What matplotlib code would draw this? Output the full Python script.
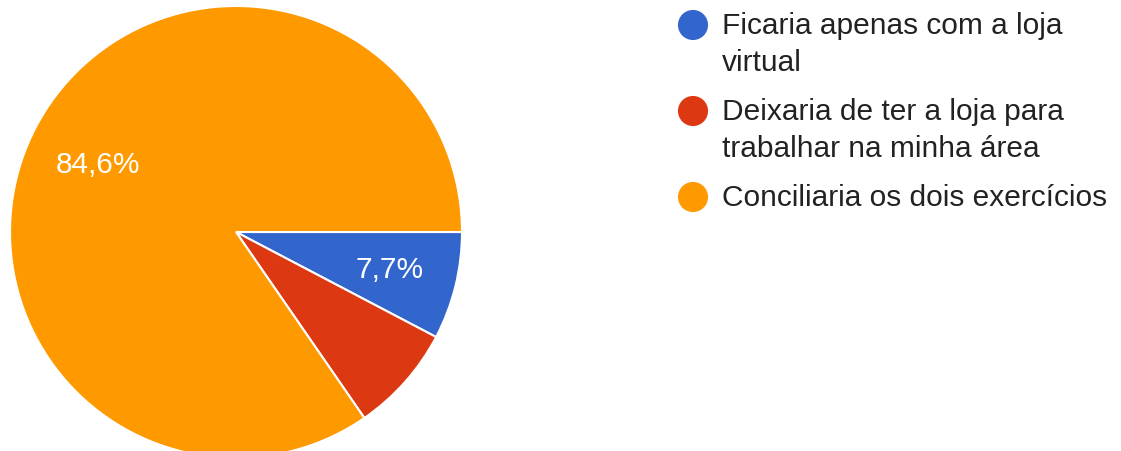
import matplotlib
matplotlib.use("Agg")
import matplotlib.pyplot as plt

plt.rcParams['font.family'] = ['Liberation Sans', 'DejaVu Sans']

# dados
categorias = ["Ficaria apenas com a loja\nvirtual",
              "Deixaria de ter a loja para\ntrabalhar na minha área",
              "Conciliaria os dois exercícios"]
respostas = [1, 1, 11]
cores = ["#3366cc", "#dc3912", "#ff9900"]
mostrar_rotulo = [True, False, True]

W, H = 1121, 451
fig = plt.figure(figsize=(W / 100, H / 100), dpi=100)

# pizza: centro (236, 232) px, raio 226 px
cx, cy, r = 236, 232, 226
ax = fig.add_axes([(cx - r) / W, (H - cy - r) / H, 2 * r / W, 2 * r / H])


def fmt(p):
    return ("%.1f%%" % p).replace(".", ",")


wedges, txts, autotxts = ax.pie(respostas, colors=cores, startangle=0,
                                counterclock=False, radius=1,
                                autopct=fmt, pctdistance=0.7,
                                wedgeprops=dict(edgecolor="white", linewidth=1.5),
                                textprops=dict(color="white", fontsize=21.5))
for t, show in zip(autotxts, mostrar_rotulo):
    t.set_visible(show)
autotxts[2].set_position((autotxts[2].get_position()[0] + 0.01,
                          autotxts[2].get_position()[1] - 0.03))
ax.set_xlim(-1, 1)
ax.set_ylim(-1, 1)
ax.axis("off")

# legenda manual (coordenadas em pixels)
lg = fig.add_axes([0, 0, 1, 1])
lg.set_xlim(0, W)
lg.set_ylim(H, 0)
lg.axis("off")
ys = [25, 111, 197]
for y, cor, nome in zip(ys, cores, categorias):
    lg.scatter([693], [y], s=470, color=cor, edgecolors="none")
    lg.text(722, y - 13, nome, fontsize=21.5, color="#222222",
            va="top", ha="left", linespacing=1.4)

fig.savefig("out.png", dpi=100)
